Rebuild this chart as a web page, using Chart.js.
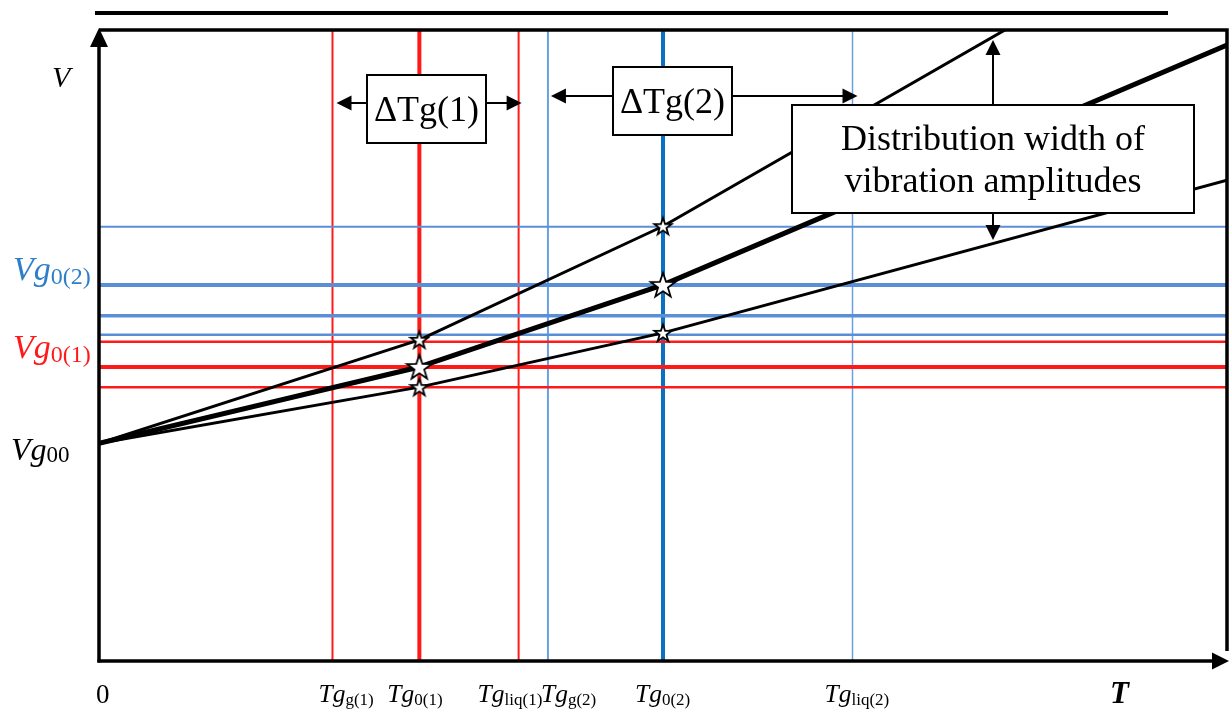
<!DOCTYPE html>
<html>
<head>
<meta charset="utf-8">
<script src="https://cdn.jsdelivr.net/npm/chart.js@4.4.0/dist/chart.umd.min.js"></script>
<style>
html,body{margin:0;padding:0;background:#fff;}
#wrap{width:1232px;height:709px;position:relative;}
</style>
</head>
<body>
<div id="wrap"><canvas id="c" width="1232" height="709"></canvas></div>
<script>
// ---------------- data ----------------
const tempSubs   = ['g(1)', '0(1)', 'liq(1)', 'g(2)', '0(2)', 'liq(2)'];
const tempValues = [20.7, 28.4, 37.2, 39.8, 50.0, 66.8];
const volumeLevels = [68.8, 59.6, 54.7, 51.7, 50.6, 46.6, 43.4];
const vg00 = 34.5;
const vg01 = 46.6;
const vg02 = 59.6;
const curveT  = [0, 28.4, 50, 100];
const upperV  = [34.5, 50.9, 68.9, 120.2];
const middleV = [34.5, 46.6, 59.6, 97.6];
const lowerV  = [34.5, 43.4, 52.0, 76.2];

// ---------------- styles ----------------
const RED = '#ff1a1a';
const BLUE_H = '#5a8fd8';
const BLUE_V = '#6aa0e2';
const BLUE_DARK = '#0a70c4';
const vColors = [RED, RED, RED, BLUE_V, BLUE_DARK, BLUE_V];
const vWidths = [2, 4, 2, 2, 4, 1.5];
const hColors = [BLUE_H, BLUE_H, BLUE_H, BLUE_H, RED, RED, RED];
const hWidths = [2, 4, 3.5, 2.5, 2.5, 4, 2.5];
const labelDx = [-14, -32, -41, -7, -28, -28];
const SERIF = '"Liberation Serif", "Times New Roman", serif';

function makeStar(outer, inner) {
  const s = Math.ceil(outer * 2 + 4);
  const cv = document.createElement('canvas');
  cv.width = s; cv.height = s;
  const g = cv.getContext('2d');
  g.translate(s / 2, s / 2 + outer * 0.08);
  g.beginPath();
  for (let i = 0; i < 10; i++) {
    const r = i % 2 === 0 ? outer : inner;
    const a = -Math.PI / 2 + i * Math.PI / 5;
    const px = r * Math.cos(a), py = r * Math.sin(a);
    if (i === 0) g.moveTo(px, py); else g.lineTo(px, py);
  }
  g.closePath();
  g.fillStyle = '#fff';
  g.fill();
  g.lineWidth = 1.8;
  g.strokeStyle = '#000';
  g.lineJoin = 'miter';
  g.stroke();
  return cv;
}
const bigStar = makeStar(13, 5.2);
const smallStar = makeStar(9, 3.6);

// ---------------- datasets ----------------
const datasets = [];
// stars
const starPts = [];
const starStyles = [];
[1, 2].forEach(i => {
  starPts.push({x: curveT[i], y: upperV[i]});  starStyles.push(smallStar);
  starPts.push({x: curveT[i], y: middleV[i]}); starStyles.push(bigStar);
  starPts.push({x: curveT[i], y: lowerV[i]});  starStyles.push(smallStar);
});
datasets.push({
  data: starPts, showLine: false, pointStyle: starStyles,
  pointRadius: 10, order: 0
});
// curves
[[upperV, 3], [middleV, 5], [lowerV, 3]].forEach(([vals, w]) => {
  datasets.push({
    data: curveT.map((t, i) => ({x: t, y: vals[i]})),
    borderColor: '#000', borderWidth: w, pointRadius: 0, tension: 0,
    borderJoinStyle: 'round', order: 1
  });
});
// vertical reference lines
tempValues.forEach((t, i) => {
  datasets.push({
    data: [{x: t, y: 0}, {x: t, y: 100}],
    borderColor: vColors[i], borderWidth: vWidths[i], pointRadius: 0, order: 3
  });
});
// horizontal reference lines
volumeLevels.forEach((v, i) => {
  datasets.push({
    data: [{x: 0, y: v}, {x: 100, y: v}],
    borderColor: hColors[i], borderWidth: hWidths[i], pointRadius: 0, order: 2
  });
});

// ---------------- drawing helpers ----------------
function arrowHead(ctx, x, y, dir, len, half) {
  ctx.beginPath();
  if (dir === 'left')  { ctx.moveTo(x, y); ctx.lineTo(x + len, y - half); ctx.lineTo(x + len, y + half); }
  if (dir === 'right') { ctx.moveTo(x, y); ctx.lineTo(x - len, y - half); ctx.lineTo(x - len, y + half); }
  if (dir === 'up')    { ctx.moveTo(x, y); ctx.lineTo(x - half, y + len); ctx.lineTo(x + half, y + len); }
  if (dir === 'down')  { ctx.moveTo(x, y); ctx.lineTo(x - half, y - len); ctx.lineTo(x + half, y - len); }
  ctx.closePath();
  ctx.fill();
}
function arrow(ctx, x1, y1, x2, y2, dir) {
  ctx.lineWidth = 2;
  ctx.beginPath(); ctx.moveTo(x1, y1);
  if (dir === 'left') ctx.lineTo(x2 + 10, y2);
  else if (dir === 'right') ctx.lineTo(x2 - 10, y2);
  else if (dir === 'up') ctx.lineTo(x2, y2 + 10);
  else ctx.lineTo(x2, y2 - 10);
  ctx.stroke();
  arrowHead(ctx, x2, y2, dir, 15, 7.5);
}
function box(ctx, x, y, w, h) {
  ctx.fillStyle = '#fff';
  ctx.fillRect(x, y, w, h);
  ctx.lineWidth = 2;
  ctx.strokeStyle = '#000';
  ctx.strokeRect(x, y, w, h);
}
function subText(ctx, x, base, main, sub, color, mf, sf, dy) {
  ctx.fillStyle = color;
  ctx.textAlign = 'left';
  ctx.textBaseline = 'alphabetic';
  ctx.font = mf;
  ctx.fillText(main, x, base);
  const w = ctx.measureText(main).width;
  ctx.font = sf;
  ctx.fillText(sub, x + w, base + dy);
}

const overlay = {
  id: 'overlay',
  afterDatasetsDraw(chart) {
    const ctx = chart.ctx;
    const xs = chart.scales.x, ys = chart.scales.y;
    const a = chart.chartArea;
    ctx.save();
    ctx.strokeStyle = '#000';
    ctx.fillStyle = '#000';
    ctx.lineCap = 'butt';

    // frame top & right
    ctx.lineWidth = 3.5;
    ctx.beginPath();
    ctx.moveTo(a.left, a.top); ctx.lineTo(a.right, a.top); ctx.lineTo(a.right, a.bottom - 10);
    ctx.stroke();
    // extra top rule
    ctx.lineWidth = 4;
    ctx.beginPath(); ctx.moveTo(95, 13); ctx.lineTo(1168, 13); ctx.stroke();
    // y axis with arrow
    ctx.lineWidth = 3.5;
    ctx.beginPath(); ctx.moveTo(a.left, a.bottom + 1.5); ctx.lineTo(a.left, a.top + 12); ctx.stroke();
    arrowHead(ctx, a.left, a.top - 2, 'up', 19, 9);
    // x axis with arrow
    ctx.beginPath(); ctx.moveTo(a.left - 1.5, a.bottom); ctx.lineTo(a.right - 10, a.bottom); ctx.stroke();
    arrowHead(ctx, a.right + 2, a.bottom, 'right', 17, 8.5);

    // ΔTg(1) box
    const tg1 = xs.getPixelForValue(tempValues[0]);
    const tl1 = xs.getPixelForValue(tempValues[2]);
    ctx.fillStyle = '#000'; ctx.strokeStyle = '#000';
    arrow(ctx, 367, 103, tg1 + 4, 103, 'left');
    arrow(ctx, 486, 103, tl1 + 3, 103, 'right');
    box(ctx, 367, 75, 119, 68);
    ctx.fillStyle = '#000';
    ctx.font = '36px ' + SERIF;
    ctx.textAlign = 'center'; ctx.textBaseline = 'alphabetic';
    ctx.fillText('\u0394Tg(1)', 426.5, 121);

    // ΔTg(2) box
    const tg2 = xs.getPixelForValue(tempValues[3]);
    const tl2 = xs.getPixelForValue(tempValues[5]);
    ctx.fillStyle = '#000';
    arrow(ctx, 613, 96, tg2 + 3, 96, 'left');
    arrow(ctx, 732, 96, tl2 + 5, 96, 'right');
    box(ctx, 613, 67, 119, 68);
    ctx.fillStyle = '#000';
    ctx.font = '36px ' + SERIF;
    ctx.textAlign = 'center';
    ctx.fillText('\u0394Tg(2)', 672.5, 113);

    // distribution width box
    ctx.fillStyle = '#000';
    arrow(ctx, 993, 105, 993, 40, 'up');
    arrow(ctx, 993, 213, 993, 240, 'down');
    box(ctx, 792, 105, 402, 108);
    ctx.fillStyle = '#000';
    ctx.font = '36px ' + SERIF;
    ctx.textAlign = 'center';
    ctx.fillText('Distribution width of', 993, 150);
    ctx.fillText('vibration amplitudes', 993, 192);

    // axis labels
    ctx.font = 'italic 30px ' + SERIF;
    ctx.textAlign = 'left';
    ctx.fillText('V', 52, 87);
    ctx.font = 'bold italic 31px ' + SERIF;
    ctx.fillText('T', 1110, 703);
    ctx.font = '27px ' + SERIF;
    ctx.fillText('0', 96, 703);

    // left value labels
    const mf = 'italic 34px ' + SERIF, sf = '24px ' + SERIF;
    subText(ctx, 13, ys.getPixelForValue(vg02) - 5, 'Vg', '0(2)', '#2f7fc8', mf, sf, 4);
    subText(ctx, 13, ys.getPixelForValue(vg01) - 9, 'Vg', '0(1)', RED, mf, sf, 4);
    subText(ctx, 11, ys.getPixelForValue(vg00) + 17, 'Vg', '00', '#000', 'italic 32px ' + SERIF, '23px ' + SERIF, 2);

    // bottom temperature labels
    tempValues.forEach((t, i) => {
      const px = xs.getPixelForValue(t) + labelDx[i];
      subText(ctx, px, 702, 'Tg', tempSubs[i], '#000', 'italic 25.5px ' + SERIF, '17px ' + SERIF, 3);
    });
    ctx.restore();
  }
};

new Chart(document.getElementById('c'), {
  type: 'line',
  data: {datasets},
  options: {
    responsive: false,
    animation: false,
    events: [],
    layout: {autoPadding: false, padding: {left: 99, top: 30, right: 1232 - 1227, bottom: 709 - 661}},
    plugins: {legend: {display: false}, tooltip: {enabled: false}},
    scales: {
      x: {type: 'linear', min: 0, max: 100, display: false},
      y: {type: 'linear', min: 0, max: 100, display: false}
    }
  },
  plugins: [overlay]
});
</script>
</body>
</html>
